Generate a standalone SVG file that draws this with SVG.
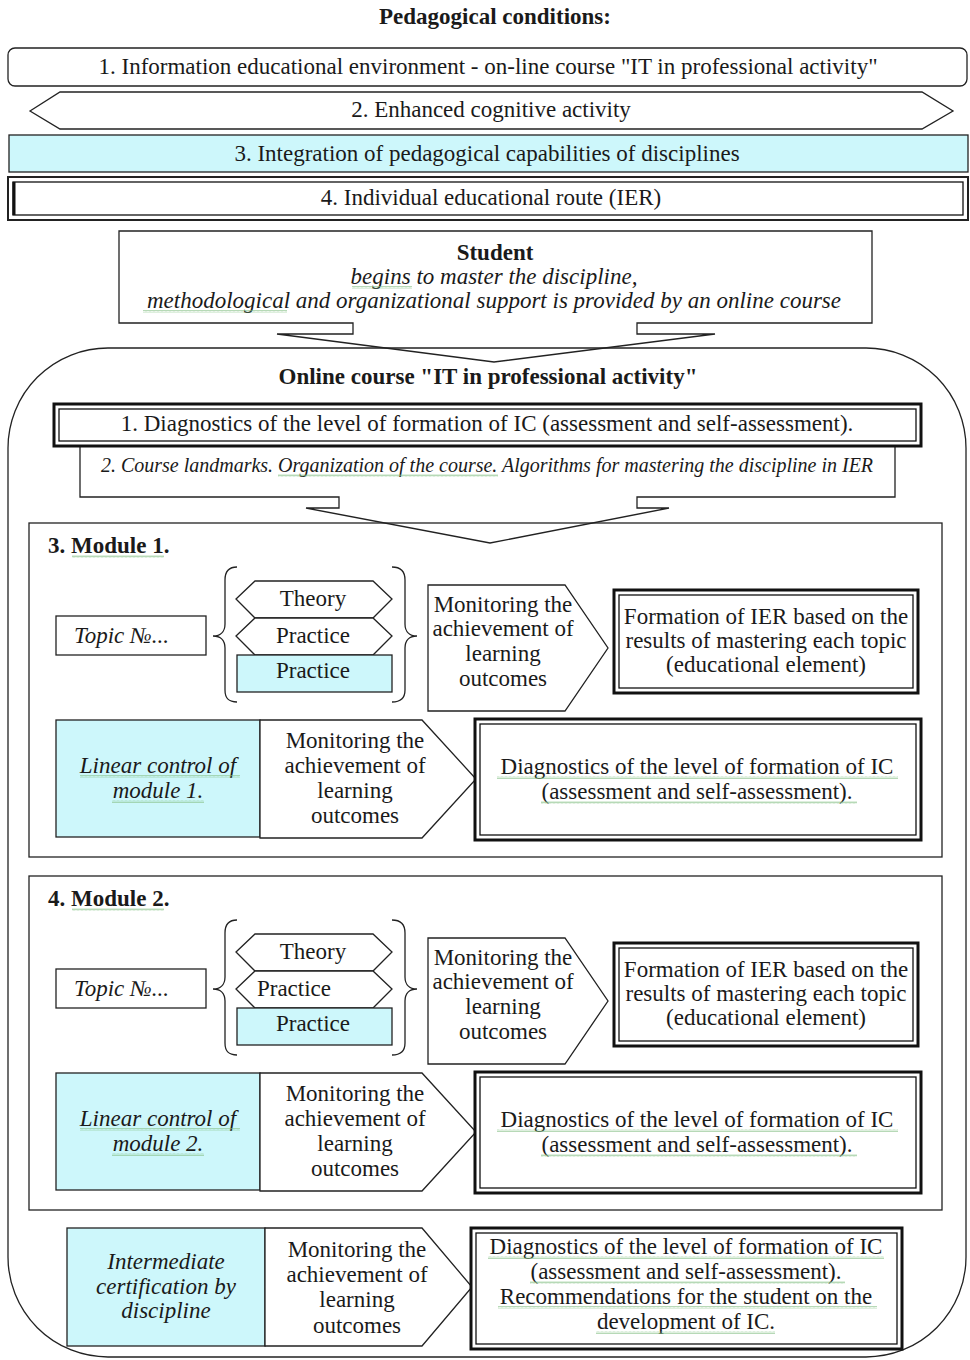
<svg xmlns="http://www.w3.org/2000/svg" width="970" height="1360" viewBox="0 0 970 1360">
<defs>
  <pattern id="wavy" width="4" height="3" patternUnits="userSpaceOnUse">
    <path d="M0,2.5 L1,0.5 L2,2.5 L3,0.5 L4,2.5" fill="none" stroke="#86bf86" stroke-width="0.6"/>
  </pattern>
</defs>
<style>
  .ln{fill:none;stroke:#222;stroke-width:1.3}
  .wh{fill:#fff;stroke:#222;stroke-width:1.3}
  .cy{fill:#cdf7fb;stroke:#222;stroke-width:1.3}
  .thick{fill:#fff;stroke:#111;stroke-width:3}
  .thin{fill:none;stroke:#111;stroke-width:1.3}
  .wv{fill:url(#wavy)}
  text{font-family:"Liberation Serif","Times New Roman",serif;font-size:23px;fill:#1a1a1a}
  .c{text-anchor:middle}
  .b{font-weight:bold}
  .i{font-style:italic}
</style>
<rect x="0" y="0" width="970" height="1360" fill="#fff"/>

<g id="title"><text class="c b" x="495" y="24">Pedagogical conditions:</text></g>

<g id="cond1">
  <rect class="wh" x="8" y="48" width="959" height="38" rx="7"/>
  <text class="c" x="488" y="74">1. Information educational environment - on-line course "IT in professional activity"</text>
</g>
<g id="cond2">
  <polygon class="wh" points="30,111 60,92 922,92 953,111 922,129 60,129"/>
  <text class="c" x="491" y="117">2. Enhanced cognitive activity</text>
</g>
<g id="cond3">
  <rect class="cy" x="9" y="135" width="959" height="37"/>
  <text class="c" x="487" y="161">3. Integration of pedagogical capabilities of disciplines</text>
</g>
<g id="cond4">
  <rect class="wh" x="8" y="177" width="960" height="43" style="stroke-width:2"/>
  <rect class="thin" x="13" y="182" width="950" height="33"/>
  <line x1="14" y1="182" x2="14" y2="215" stroke="#111" stroke-width="3"/>
  <text class="c" x="491" y="205">4. Individual educational route (IER)</text>
</g>

<g id="online-course">
  <rect class="ln" x="8" y="348" width="958" height="1009" rx="100" ry="100"/>
  <text class="c b" x="488" y="384">Online course "IT in professional activity"</text>
</g>

<g id="student">
  <path class="ln" d="M119,231 H872 V323 H637 V334 H715 L494,362 L277,334 H353 V323 H119 Z"/>
  <text class="c b" x="495" y="260">Student</text>
  <text class="c i" x="494" y="284">begins to master the discipline,</text>
  <text class="c i" x="494" y="308">methodological and organizational support is provided by an online course</text>
  <rect class="wv" x="352" y="286" width="60" height="3"/>
  <rect class="wv" x="143" y="310" width="144" height="3"/>
</g>

<g id="course-landmarks">
  <path class="ln" d="M80,440 V497 H339 V508 H306 L490,543 L669,508 H637 V497 H895 V440"/>
  <text class="c i" x="487" y="472" style="font-size:20px">2. Course landmarks. Organization of the course. Algorithms for mastering the discipline in IER</text>
  <rect class="wv" x="278" y="474" width="220" height="3"/>
</g>

<g id="diagnostics-start">
  <rect class="thick" x="54" y="404" width="867" height="42"/>
  <rect class="thin" x="59" y="409" width="857" height="32"/>
  <text class="c" x="487" y="431">1. Diagnostics of the level of formation of IC (assessment and self-assessment).</text>
</g>

<g id="module1">
  <rect class="ln" x="29" y="523" width="913" height="334"/>
  <text class="b" x="48" y="553">3. Module 1.</text>
  <rect class="wv" x="72" y="555" width="92" height="3"/>
  <g id="m1-topic">
    <rect class="wh" x="56" y="616" width="150" height="39"/>
    <text class="i" x="74" y="643">Topic №...</text>
  </g>
  <g id="m1-brace">
    <path class="ln" d="M237,567 C228,567 225,572 225,580 L225,624 C225,632 220,636 213,636 C220,636 225,640 225,648 L225,690 C225,698 228,702 237,702"/>
    <path class="ln" d="M392,567 C401,567 405,572 405,580 L405,624 C405,632 410,636 417,636 C410,636 405,640 405,648 L405,690 C405,698 401,702 392,702"/>
  </g>
  <g id="m1-theory">
    <polygon class="wh" points="236,599 255,581 373,581 392,599 373,618 255,618"/>
    <text class="c" x="313" y="606">Theory</text>
  </g>
  <g id="m1-practice1">
    <polygon class="wh" points="236,636 255,618 373,618 392,636 373,655 255,655"/>
    <text class="c" x="313" y="643">Practice</text>
  </g>
  <g id="m1-practice2">
    <rect class="cy" x="237" y="655" width="155" height="37"/>
    <text class="c" x="313" y="678">Practice</text>
  </g>
  <g id="m1-monitor1">
    <polygon class="wh" points="428,585 565,585 608,648 565,711 428,711"/>
    <text class="c" x="503" y="612">Monitoring the</text>
    <text class="c" x="503" y="636">achievement of</text>
    <text class="c" x="503" y="661">learning</text>
    <text class="c" x="503" y="686">outcomes</text>
  </g>
  <g id="m1-formation">
    <rect class="thick" x="614" y="590" width="304" height="103"/>
    <rect class="thin" x="619" y="595" width="294" height="93"/>
    <text class="c" x="766" y="624">Formation of IER based on the</text>
    <text class="c" x="766" y="648">results of mastering each topic</text>
    <text class="c" x="766" y="672">(educational element)</text>
  </g>
  <g id="m1-linear">
    <rect class="cy" x="56" y="720" width="204" height="117"/>
    <text class="c i" x="158" y="773">Linear control of</text>
    <text class="c i" x="158" y="798">module 1.</text>
    <rect class="wv" x="80" y="775" width="160" height="3"/>
    <rect class="wv" x="112" y="800" width="92" height="3"/>
  </g>
  <g id="m1-monitor2">
    <polygon class="wh" points="260,720 422,720 476,779 422,838 260,838"/>
    <text class="c" x="355" y="748">Monitoring the</text>
    <text class="c" x="355" y="773">achievement of</text>
    <text class="c" x="355" y="798">learning</text>
    <text class="c" x="355" y="823">outcomes</text>
  </g>
  <g id="m1-diagnostics">
    <rect class="thick" x="475" y="719" width="446" height="121"/>
    <rect class="thin" x="480" y="724" width="436" height="111"/>
    <text class="c" x="697" y="774">Diagnostics of the level of formation of IC</text>
    <text class="c" x="697" y="799">(assessment and self-assessment).</text>
    <rect class="wv" x="497" y="776" width="401" height="3"/>
    <rect class="wv" x="541" y="801" width="316" height="3"/>
  </g>
</g>

<g id="module2" transform="translate(0,353)">
  <rect class="ln" x="29" y="523" width="913" height="334"/>
  <text class="b" x="48" y="553">4. Module 2.</text>
  <rect class="wv" x="72" y="555" width="92" height="3"/>
  <g id="m2-topic">
    <rect class="wh" x="56" y="616" width="150" height="39"/>
    <text class="i" x="74" y="643">Topic №...</text>
  </g>
  <g id="m2-brace">
    <path class="ln" d="M237,567 C228,567 225,572 225,580 L225,624 C225,632 220,636 213,636 C220,636 225,640 225,648 L225,690 C225,698 228,702 237,702"/>
    <path class="ln" d="M392,567 C401,567 405,572 405,580 L405,624 C405,632 410,636 417,636 C410,636 405,640 405,648 L405,690 C405,698 401,702 392,702"/>
  </g>
  <g id="m2-theory">
    <polygon class="wh" points="236,599 255,581 373,581 392,599 373,618 255,618"/>
    <text class="c" x="313" y="606">Theory</text>
  </g>
  <g id="m2-practice1">
    <polygon class="wh" points="236,636 255,618 373,618 392,636 373,655 255,655"/>
    <text class="c" x="294" y="643">Practice</text>
  </g>
  <g id="m2-practice2">
    <rect class="cy" x="237" y="655" width="155" height="37"/>
    <text class="c" x="313" y="678">Practice</text>
  </g>
  <g id="m2-monitor1">
    <polygon class="wh" points="428,585 565,585 608,648 565,711 428,711"/>
    <text class="c" x="503" y="612">Monitoring the</text>
    <text class="c" x="503" y="636">achievement of</text>
    <text class="c" x="503" y="661">learning</text>
    <text class="c" x="503" y="686">outcomes</text>
  </g>
  <g id="m2-formation">
    <rect class="thick" x="614" y="590" width="304" height="103"/>
    <rect class="thin" x="619" y="595" width="294" height="93"/>
    <text class="c" x="766" y="624">Formation of IER based on the</text>
    <text class="c" x="766" y="648">results of mastering each topic</text>
    <text class="c" x="766" y="672">(educational element)</text>
  </g>
  <g id="m2-linear">
    <rect class="cy" x="56" y="720" width="204" height="117"/>
    <text class="c i" x="158" y="773">Linear control of</text>
    <text class="c i" x="158" y="798">module 2.</text>
    <rect class="wv" x="80" y="775" width="160" height="3"/>
    <rect class="wv" x="112" y="800" width="92" height="3"/>
  </g>
  <g id="m2-monitor2">
    <polygon class="wh" points="260,720 422,720 476,779 422,838 260,838"/>
    <text class="c" x="355" y="748">Monitoring the</text>
    <text class="c" x="355" y="773">achievement of</text>
    <text class="c" x="355" y="798">learning</text>
    <text class="c" x="355" y="823">outcomes</text>
  </g>
  <g id="m2-diagnostics">
    <rect class="thick" x="475" y="719" width="446" height="121"/>
    <rect class="thin" x="480" y="724" width="436" height="111"/>
    <text class="c" x="697" y="774">Diagnostics of the level of formation of IC</text>
    <text class="c" x="697" y="799">(assessment and self-assessment).</text>
    <rect class="wv" x="497" y="776" width="401" height="3"/>
    <rect class="wv" x="541" y="801" width="316" height="3"/>
  </g>
</g>

<g id="certification">
  <rect class="cy" x="67" y="1228" width="198" height="118"/>
  <text class="c i" x="166" y="1269">Intermediate</text>
  <text class="c i" x="166" y="1294">certification by</text>
  <text class="c i" x="166" y="1318">discipline</text>
</g>
<g id="final-monitor">
  <polygon class="wh" points="265,1228 422,1228 472,1287 422,1346 265,1346"/>
  <text class="c" x="357" y="1257">Monitoring the</text>
  <text class="c" x="357" y="1282">achievement of</text>
  <text class="c" x="357" y="1307">learning</text>
  <text class="c" x="357" y="1333">outcomes</text>
</g>
<g id="final-diagnostics">
  <rect class="thick" x="471" y="1228" width="431" height="121"/>
  <rect class="thin" x="476" y="1233" width="421" height="111"/>
  <text class="c" x="686" y="1254">Diagnostics of the level of formation of IC</text>
  <text class="c" x="686" y="1279">(assessment and self-assessment).</text>
  <text class="c" x="686" y="1304">Recommendations for the student on the</text>
  <text class="c" x="686" y="1329">development of IC.</text>
  <rect class="wv" x="488" y="1256" width="396" height="3"/>
  <rect class="wv" x="530" y="1281" width="315" height="3"/>
  <rect class="wv" x="498" y="1306" width="379" height="3"/>
  <rect class="wv" x="596" y="1331" width="179" height="3"/>
</g>

<g id="connectors"></g>
</svg>
